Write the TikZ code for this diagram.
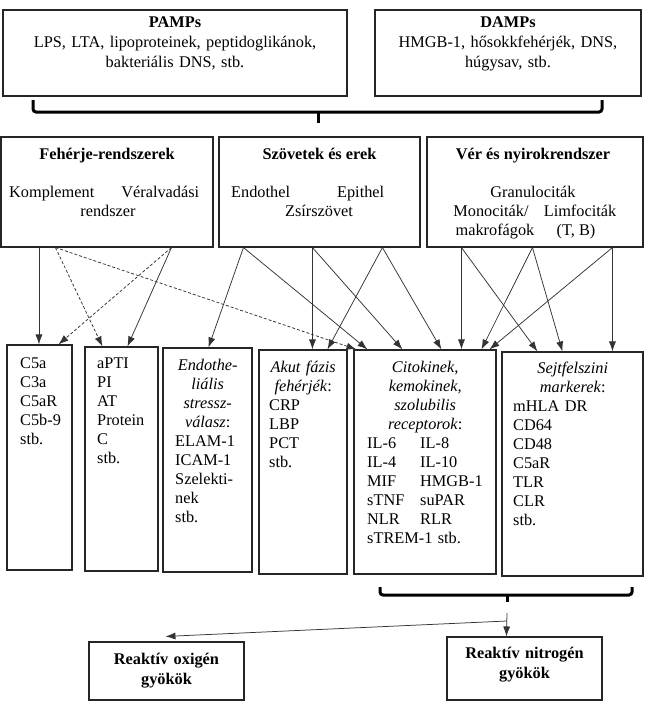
\documentclass[tikz,border=0pt]{standalone}
\usepackage{fontspec}
\setmainfont{Liberation Serif}
\usetikzlibrary{arrows.meta}
\setlength{\parindent}{0pt}
\newcommand\fsz{\fontsize{16.3}{19}\selectfont}
\newcommand\fszT{\fontsize{16.3}{20}\selectfont}
\newcommand\fszB{\fontsize{16.3}{20}\selectfont}
\tikzset{
  box/.style={draw=black!85, line width=1.1pt, inner sep=0pt},
  txt/.style={inner sep=0pt, font=\fsz},
  arr/.style={draw=black!80, line width=0.75pt, -{Latex[length=10pt,width=7pt]}},
  dsh/.style={arr, dash pattern=on 3pt off 2pt},
  brc/.style={draw=black, line width=3pt, rounded corners=3pt},
}
\begin{document}
\begin{tikzpicture}[x=1pt,y=-1pt]
\useasboundingbox (0,0) rectangle (648,716);
\fill[white] (0,0) rectangle (648,716);

% top boxes
\node[box, minimum width=344pt, minimum height=86pt] (pamps) at (175,53) {};
\node[box, minimum width=266pt, minimum height=86pt] (damps) at (508,53) {};
\node[txt, font=\fszT, anchor=north, align=center, text width=330pt] (pampst) at (175,13)
  {\strut\textbf{PAMPs}\\LPS, LTA, lipoproteinek, peptidoglikánok,\\bakteriális DNS, stb.};
\node[txt, font=\fszT, anchor=north, align=center, text width=250pt] (dampst) at (508,13)
  {\strut\textbf{DAMPs}\\HMGB-1, hősokkfehérjék, DNS,\\húgysav, stb.};

% top brace
\draw[brc] (33,100) -- (33,112) -- (602,112) -- (602,100);
\draw[brc] (318,112) -- (318,123);

% middle boxes
\node[box, minimum width=212pt, minimum height=110pt] (feh) at (107,192) {};
\node[box, minimum width=201pt, minimum height=110pt] (szov) at (319.5,192) {};
\node[box, minimum width=216pt, minimum height=110pt] (ver) at (535,192) {};

\node[txt, anchor=base] (feht) at (107,159) {\textbf{Fehérje-rendszerek}};
\node[txt, anchor=base west] (fehb) at (9,197) {\makebox[190pt]{Komplement\hfill Véralvadási}};
\node[txt, anchor=base] (fehc) at (108,216) {rendszer};

\node[txt, anchor=base] (szovt) at (319.5,159) {\textbf{Szövetek és erek}};
\node[txt, anchor=base west] (szovb) at (231,197) {\makebox[153pt]{Endothel\hfill Epithel}};
\node[txt, anchor=base] (szovc) at (319,216) {Zsírszövet};

\node[txt, anchor=base] (vert) at (533,159) {\textbf{Vér és nyirokrendszer}};
\node[txt, anchor=base] (verb) at (533,197) {Granulociták};
\node[txt, anchor=base] (verc) at (491,216) {Monociták/};
\node[txt, anchor=base] (verd) at (580,216) {Limfociták};
\node[txt, anchor=base] (vere) at (495,235) {makrofágok};
\node[txt, anchor=base] (verf) at (576,235) {(T, B)};

% bottom boxes
\node[box, minimum width=65pt, minimum height=225pt] (c5a) at (39.5,457.5) {};
\node[box, minimum width=73pt, minimum height=224pt] (apti) at (121.5,459) {};
\node[box, minimum width=89pt, minimum height=224pt] (endo) at (207.5,460) {};
\node[box, minimum width=88pt, minimum height=224pt] (akut) at (303,462) {};
\node[box, minimum width=142pt, minimum height=224pt] (cito) at (425,462) {};
\node[box, minimum width=141pt, minimum height=224pt] (sejt) at (572.5,464) {};

\node[txt, anchor=north west, align=left] (c5at) at (20,354.7)
  {\strut C5a\\C3a\\C5aR\\C5b-9\\stb.};
\node[txt, anchor=north west, align=left] (aptit) at (97,354.7)
  {\strut aPTI\\PI\\AT\\Protein\\C\\stb.};
\node[txt, anchor=north west, text width=65pt] (endot) at (175,356.7)
  {{\centering\itshape\strut Endothe-\\liális\\stressz-\\válasz\/{\upshape:}\par}\raggedright
   ELAM-1\\ICAM-1\\Szelekti-\\nek\\stb.};
\node[txt, anchor=north west, text width=68pt] (akutt) at (269,358.7)
  {{\centering\itshape\strut Akut fázis\\fehérjék\/{\upshape:}\par}\raggedright
   CRP\\LBP\\PCT\\stb.};
\node[txt, anchor=north west, text width=116pt] (citot) at (367,358.7)
  {{\centering\itshape\strut Citokinek,\\kemokinek,\\szolubilis\\receptorok\/{\upshape:}\par}\raggedright
   \makebox[53pt][l]{IL-6}IL-8\\
   \makebox[53pt][l]{IL-4}IL-10\\
   \makebox[53pt][l]{MIF}HMGB-1\\
   \makebox[53pt][l]{sTNF}suPAR\\
   \makebox[53pt][l]{NLR}RLR\\
   sTREM-1 stb.};
\node[txt, anchor=north west, text width=119pt] (sejtt) at (513,359.7)
  {{\centering\itshape\strut Sejtfelszini\\markerek\/{\upshape:}\par}\raggedright
   mHLA DR\\CD64\\CD48\\C5aR\\TLR\\CLR\\stb.};

% arrows from Fehérje-rendszerek
\draw[arr] ([xshift=38.5pt]feh.south west) -- ([xshift=32.5pt]c5a.north west);
\draw[dsh] ([xshift=55pt]feh.south west) -- ([xshift=18pt]apti.north west);
\draw[dsh] ([xshift=55pt]feh.south west) -- ([xshift=3pt]cito.north west);
\draw[dsh] ([xshift=171pt]feh.south west) -- ([xshift=52pt]c5a.north west);
\draw[arr] ([xshift=171pt]feh.south west) -- ([xshift=43pt]apti.north west);
% arrows from Szövetek és erek
\draw[arr] ([xshift=25pt]szov.south west) -- ([xshift=46pt]endo.north west);
\draw[arr] ([xshift=25pt]szov.south west) -- ([xshift=14pt]cito.north west);
\draw[arr] ([xshift=94pt]szov.south west) -- ([xshift=54pt]akut.north west);
\draw[arr] ([xshift=94pt]szov.south west) -- ([xshift=49pt]cito.north west);
\draw[arr] ([xshift=164pt]szov.south west) -- ([xshift=69pt]akut.north west);
\draw[arr] ([xshift=164pt]szov.south west) -- ([xshift=88pt]cito.north west);
% arrows from Vér és nyirokrendszer
\draw[arr] ([xshift=35pt]ver.south west) -- ([xshift=108pt]cito.north west);
\draw[arr] ([xshift=35pt]ver.south west) -- ([xshift=36pt]sejt.north west);
\draw[arr] ([xshift=106pt]ver.south west) -- ([xshift=128pt]cito.north west);
\draw[arr] ([xshift=106pt]ver.south west) -- ([xshift=61pt]sejt.north west);
\draw[arr] ([xshift=186pt]ver.south west) -- ([xshift=136pt]cito.north west);
\draw[arr] ([xshift=186pt]ver.south west) -- ([xshift=111pt]sejt.north west);

% bottom brace
\draw[brc] (380,587) -- (380,595) -- (632,595) -- (632,587);
\draw[brc] (507,595) -- (507,602);

% result boxes
\node[box, minimum width=155pt, minimum height=58pt] (oxy) at (166.5,671) {};
\node[box, minimum width=155pt, minimum height=63pt] (nit) at (524.5,668.5) {};
\node[txt, font=\fszB, anchor=north, align=center, text width=150pt] (oxyt) at (166.5,650)
  {\strut\textbf{Reaktív oxigén}\\\textbf{gyökök}};
\node[txt, font=\fszB, anchor=north, align=center, text width=150pt] (nitt) at (524.5,644)
  {\strut\textbf{Reaktív nitrogén}\\\textbf{gyökök}};

\coordinate (jt) at (507,613);
\coordinate (jn) at (507,621);
\draw[arr] (jt) -- ([xshift=60pt]nit.north west);
\draw[arr] (jn) -- ([xshift=77pt,yshift=5pt]oxy.north west);
\end{tikzpicture}
\end{document}
